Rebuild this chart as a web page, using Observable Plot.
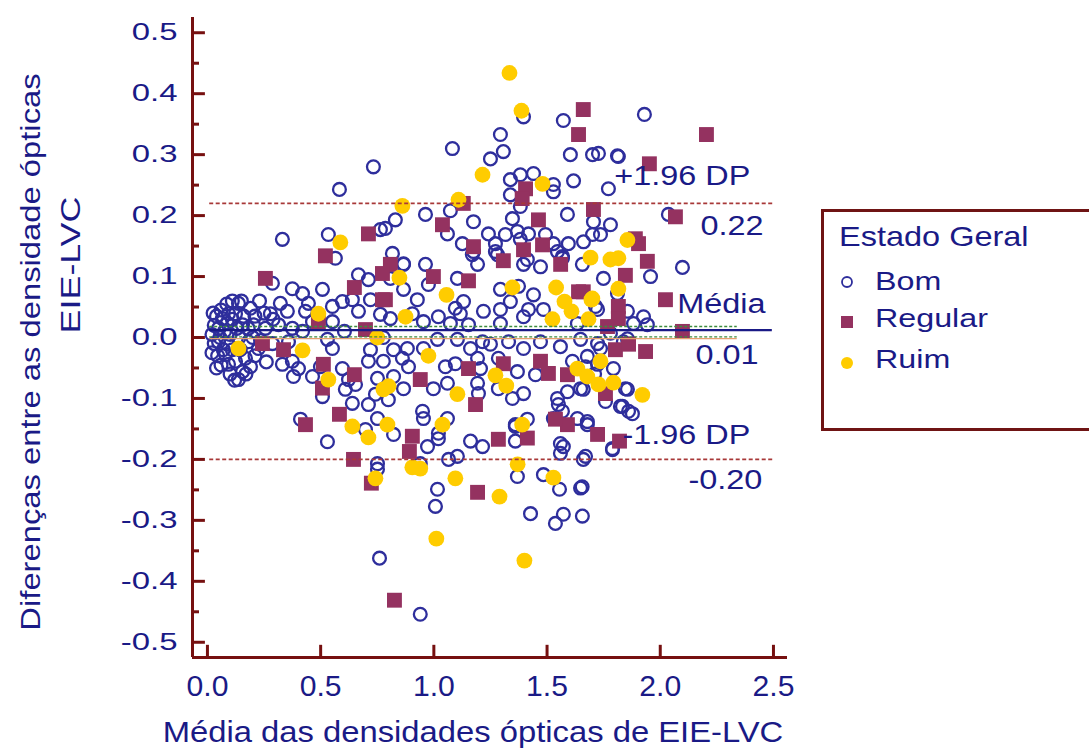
<!DOCTYPE html>
<html><head><meta charset="utf-8">
<script src="https://cdn.jsdelivr.net/npm/d3@7"></script>
<script src="https://cdn.jsdelivr.net/npm/@observablehq/plot@0.6"></script>
<style>
body{margin:0;background:#fff;overflow:hidden;}
#chart{position:relative;width:1089px;height:749px;overflow:hidden;font-family:"Liberation Sans",Arial,sans-serif;color:#1a1a86;}
.t{position:absolute;white-space:nowrap;line-height:1;transform-origin:0 0;}
#legend{position:absolute;left:821px;top:209px;width:330px;height:222px;border:3px solid #6f1414;box-sizing:border-box;}
</style></head><body><div id="chart"></div>
<script>
// ---------- data ----------
const bom = [
[0.733,0.28],[0.583,0.243],[0.331,0.161],[0.534,0.169],[0.565,0.13],[0.764,0.177],
[1.082,0.31],[1.294,0.333],[1.307,0.305],[1.25,0.293],[1.572,0.356],[1.396,0.362],[1.338,0.259],[1.382,0.267],[1.44,0.269],[1.338,0.234],[1.528,0.239],[1.528,0.251],[1.617,0.257],[1.603,0.3],[1.701,0.3],[1.727,0.302],[1.811,0.298],[1.771,0.244],[1.93,0.366],
[0.83,0.193],[0.786,0.179],[0.963,0.202],[1.073,0.208],[1.175,0.19],[1.347,0.195],[1.382,0.215],[1.59,0.202],[1.705,0.19],[1.78,0.185],
[1.06,0.17],[1.126,0.154],[1.241,0.17],[1.272,0.154],[1.316,0.169],[1.369,0.174],[1.418,0.17],[1.493,0.169],[1.528,0.154],[1.594,0.154],[1.661,0.157],[1.701,0.169],[1.736,0.169],[1.175,0.141],[1.382,0.161],[0.817,0.138],[0.866,0.121],[1.272,0.141],[1.413,0.128],[1.546,0.141],[1.568,0.13],[1.656,0.12],
[1.815,0.297],[2.036,0.202],[2.098,0.115],[1.957,0.1],[1.714,0.051],[1.926,0.034],[1.943,0.021],[1.78,0.007],[1.855,-0.002],
[0.287,0.089],[0.375,0.08],[0.42,0.072],[0.322,0.056],[0.278,0.039],[0.353,0.043],[0.446,0.056],[0.508,0.079],[0.552,0.051],[0.596,0.059],[0.64,0.062],[0.667,0.103],[0.711,0.095],[0.72,0.062],[0.667,0.043],[0.433,0.043],[0.464,0.026],[0.552,0.026],[0.605,0.01],[0.764,0.038],
[0.137,0.056],[0.093,0.039],[0.124,0.039],[0.19,0.048],[0.066,0.031],[0.088,0.023],[0.049,0.015],[0.155,0.021],[0.203,0.021],[0.256,0.015],[0.314,0.021],[0.375,0.015],[0.42,0.01],[0.049,-0.007],[0.088,-0.011],[0.181,-0.007],[0.225,-0.018],[0.287,-0.01],[0.358,-0.007],[0.08,-0.028],[0.124,-0.039],[0.168,-0.034],[0.093,-0.044],[0.155,-0.056],[0.137,-0.069],[0.19,-0.048],[0.331,-0.044],[0.375,-0.039],[0.402,-0.051],[0.38,-0.064],[0.464,-0.064],[0.499,-0.048],[0.552,-0.018],[0.53,-0.003],[0.596,-0.051],[0.623,-0.069],[0.654,-0.077],[0.609,-0.085],[0.508,-0.097],[0.64,-0.108],[0.711,-0.11],[0.742,-0.093],[0.751,-0.067],[0.711,-0.039],[0.72,-0.02],[0.411,-0.134],[0.53,-0.171],[0.698,-0.151],[0.751,-0.133],[0.751,-0.207],[0.751,-0.216],[0.76,-0.362],[0.94,-0.454],
[0.03,0.02],[0.03,-0.01],[0.02,0.005],[0.06,0.045],[0.11,0.06],[0.16,0.035],[0.07,-0.02],[0.11,-0.02],[0.14,0.0],[0.2,0.0],[0.06,-0.045],[0.1,-0.06],[0.17,-0.06],[0.21,-0.03],[0.25,0.04],[0.13,0.015],[0.04,0.035],[0.23,0.06],[0.26,-0.04],[0.29,0.03],
[0.025,0.04],[0.02,-0.025],[0.045,-0.03],[0.1,0.005],[0.12,-0.07],[0.085,0.055],[0.15,0.06],[0.18,0.015],[0.21,0.035],[0.235,-0.005],[0.055,0.0],[0.11,0.03],[0.145,-0.02],[0.075,0.01],[0.04,-0.05],
[0.822,-0.159],[0.94,-0.207],[0.972,-0.179],[1.02,-0.166],[1.065,-0.2],[1.104,-0.195],[1.162,-0.17],[1.215,-0.179],[1.36,-0.146],[1.36,-0.17],[1.369,-0.228],[1.484,-0.225],[1.559,-0.19],[1.572,-0.179],[1.67,-0.195],[1.789,-0.184],[1.016,-0.249],[1.007,-0.277],[1.555,-0.249],[1.648,-0.247],[1.427,-0.289],[1.537,-0.305],[1.572,-0.29],[1.656,-0.293],
[0.866,0.12],[0.963,0.12],[0.808,0.097],[1.104,0.097],[1.17,0.136],[1.193,0.12],[1.281,0.136],[1.396,0.12],[1.471,0.116],[1.568,0.133],[1.749,0.097],[1.811,0.072],[0.866,0.079],[0.927,0.062],[0.976,0.087],[1.131,0.059],[1.294,0.079],[1.374,0.084],[1.44,0.07],[1.338,0.059],[1.418,0.046],[1.484,0.046],[1.219,0.043],[1.294,0.046],[1.095,0.048],[1.117,0.039],[0.808,0.031],[0.905,0.039],[0.954,0.026],[1.02,0.034],[1.073,0.023],[1.153,0.021],[1.294,0.023],[1.396,0.034],[1.634,0.023],[1.723,0.046],[1.855,0.043],[1.882,0.023],
[0.777,0.0],[0.822,-0.02],[0.883,-0.018],[0.954,-0.018],[1.016,-0.003],[1.104,-0.003],[1.162,-0.018],[1.215,-0.007],[1.25,-0.011],[1.33,-0.007],[1.396,-0.018],[1.471,-0.007],[1.559,-0.015],[1.648,-0.003],[1.723,-0.01],[1.837,-0.007],
[0.777,-0.039],[0.861,-0.034],[0.888,-0.048],[1.051,-0.048],[1.095,-0.043],[1.193,-0.034],[1.206,-0.051],[1.285,-0.034],[1.369,-0.056],[1.449,-0.061],[1.612,-0.039],[1.678,-0.031],[1.723,-0.044],[1.793,-0.051],
[0.822,-0.064],[0.866,-0.084],[0.998,-0.084],[1.06,-0.075],[1.193,-0.075],[1.285,-0.084],[1.347,-0.1],[1.396,-0.092],[1.546,-0.1],[1.59,-0.089],[1.648,-0.084],[1.846,-0.084],[0.799,-0.102],[0.95,-0.121],[0.954,-0.133],[1.197,-0.092],[1.55,-0.11],[1.568,-0.121],[1.634,-0.133],[1.678,-0.143],[1.824,-0.113],[1.86,-0.121],[1.06,-0.133],[1.36,-0.143],[1.413,-0.134],[1.528,-0.133],[1.02,-0.157],[1.559,-0.174],
[1.736,-0.018],[1.67,-0.048],[1.71,-0.06],[1.66,-0.085],[1.758,-0.105],[1.855,-0.085],[1.833,-0.113],[1.877,-0.125],[1.678,-0.138],[1.789,-0.182],[1.66,-0.2],[1.655,-0.245]
];
const regular = [
[1.66,0.374],[1.639,0.333],[2.204,0.333],[1.952,0.285],[1.705,0.21],[2.067,0.198],[1.89,0.162],[1.904,0.154],[1.943,0.125],[1.846,0.102],[2.023,0.062],[1.815,0.051],[1.815,0.031],[2.098,0.01],[1.66,0.075],[1.767,0.018],
[1.802,-0.02],[1.86,-0.011],[1.935,-0.023],[1.758,-0.092],[1.723,-0.159],[1.82,-0.17],
[1.13,0.22],[1.405,0.244],[1.39,0.228],[1.462,0.193],[1.038,0.185],[1.175,0.149],[1.48,0.152],[1.396,0.144],[1.307,0.126],[1.56,0.12],[0.808,0.12],
[0.998,0.1],[1.153,0.093],[0.786,0.062],[1.639,0.075],
[1.471,-0.039],[1.506,-0.059],[1.59,-0.061],[1.307,-0.043],[1.153,-0.051],[0.94,-0.069],[1.184,-0.11],[1.59,-0.143],[0.905,-0.162],[1.285,-0.167],[1.413,-0.165],[1.537,-0.134],[0.892,-0.187],[1.193,-0.254],[0.826,-0.431],
[0.711,0.17],[0.521,0.134],[0.256,0.097],[0.649,0.082],[0.773,0.062],[0.49,0.026],[0.243,-0.01],[0.336,-0.02],[0.512,-0.044],[0.508,-0.083],[0.649,-0.061],[0.583,-0.126],[0.433,-0.143],[0.645,-0.2],[0.724,-0.239],[0.698,0.013],[0.773,0.105]
];
const ruim = [
[1.334,0.434],[1.387,0.372],[1.215,0.267],[1.48,0.252],[0.861,0.216],[1.109,0.226],[1.692,0.131],[1.78,0.128],[1.815,0.13],[1.855,0.16],[0.587,0.156],
[0.848,0.098],[1.056,0.07],[1.347,0.082],[1.54,0.082],[1.577,0.059],[1.608,0.043],[1.696,0.062],[1.683,0.03],[1.524,0.03],[0.875,0.034],[1.7,0.064],[1.815,0.08],
[0.976,-0.03],[1.272,-0.062],[1.32,-0.079],[0.8,-0.08],[1.104,-0.093],[0.795,-0.143],[1.038,-0.143],[1.39,-0.143],[1.634,-0.051],[1.678,-0.064],[1.727,-0.077],[1.793,-0.074],[1.736,-0.039],[1.921,-0.094],
[0.905,-0.213],[1.095,-0.231],[1.29,-0.261],[1.37,-0.208],[1.528,-0.23],[1.011,-0.33],[1.4,-0.366],[0.94,-0.215],
[0.49,0.039],[0.137,-0.018],[0.42,-0.021],[0.534,-0.069],[0.64,-0.146],[0.711,-0.164],[0.742,-0.231],[0.75,0.0],[0.777,-0.085]
];
const meanDiff = 0.012;         // Média (0.01)
const upperLoA = 0.22;          // +1.96 DP
const lowerLoA = -0.20;         // -1.96 DP
const ciMean = [0.018, 0.001];  // green dashed band around mean
const zeroRef = -0.002;         // orange reference line
const yMajor = [-0.5,-0.4,-0.3,-0.2,-0.1,0,0.1,0.2,0.3,0.4,0.5];
const yMinor = [-0.45,-0.35,-0.25,-0.15,-0.05,0.05,0.15,0.25,0.35,0.45];
const xTicks = [0,0.5,1,1.5,2,2.5];
const annotTexts = ["+1.96 DP","0.22","Média","0.01","-1.96 DP","-0.20"];
const annotY = [0.265,0.183,0.055,-0.030,-0.160,-0.235];
const annotX = [2.398,2.456,2.465,2.434,2.398,2.451];
const legendTitle = "Estado Geral";
const legendItems = ["Bom","Regular","Ruim"];

// ---------- style ----------
const FONT = '"Liberation Sans", Arial, sans-serif';
const NAVY = "#1a1a86", AXIS = "#761010", BOM = "#2e2e9c", REG = "#943260", RUIM = "#ffcc00";
const xDomain = [-0.066, 2.562], yDomain = [-0.525, 0.525];
const yTickMajor = 0.057, yTickMinor = 0.031, xTickLen = 0.020;

const P = () => ({x: d => d[0], y: d => d[1]});
const plot = Plot.plot({
  width: 1089, height: 749,
  marginLeft: 192, marginRight: 302, marginTop: 17, marginBottom: 92,
  x: {domain: xDomain}, y: {domain: yDomain},
  style: {fontFamily: FONT, background: "transparent", overflow: "visible"},
  marks: [
    Plot.dot(bom, {...P(), r: 6.4, stroke: BOM, strokeWidth: 2.3, fill: "none"}),
    Plot.dot(regular, {...P(), symbol: "square", r: 8.4, fill: REG}),
    Plot.dot(ruim, {...P(), r: 7.9, fill: RUIM}),
    Plot.ruleY([zeroRef], {x1: 0.01, x2: 2.34, stroke: "#e6a070", strokeWidth: 1.2}),
    Plot.ruleY(ciMean, {x1: 0.01, x2: 2.34, stroke: "#3c8c3c", strokeWidth: 1.4, strokeDasharray: "3,2"}),
    Plot.ruleY([meanDiff], {x1: 0.01, x2: 2.495, stroke: NAVY, strokeWidth: 2.2}),
    Plot.ruleY([upperLoA, lowerLoA], {x1: 0.01, x2: 2.5, stroke: "#a83838", strokeWidth: 1.6, strokeDasharray: "4,2.5"}),
    // axes
    Plot.ruleX([xDomain[0]], {y1: yDomain[0], y2: yDomain[1], stroke: AXIS, strokeWidth: 3}),
    Plot.ruleY([yDomain[0]], {x1: xDomain[0], x2: xDomain[1], stroke: AXIS, strokeWidth: 3}),
    Plot.ruleY(yMajor, {x1: xDomain[0], x2: xDomain[0] + yTickMajor, stroke: AXIS, strokeWidth: 3}),
    Plot.ruleY(yMinor, {x1: xDomain[0], x2: xDomain[0] + yTickMinor, stroke: AXIS, strokeWidth: 3}),
    Plot.ruleX(xTicks, {y1: yDomain[0], y2: yDomain[0] + xTickLen, stroke: AXIS, strokeWidth: 3}),
    Plot.axisY({ticks: yMajor, tickSize: 0, tickPadding: 15, fontSize: 24, color: NAVY, label: null, tickFormat: d => d.toFixed(1)}),
    Plot.axisX({ticks: xTicks, tickSize: 0, tickPadding: 18, fontSize: 29, color: NAVY, label: null, tickFormat: d => d.toFixed(1)}),
    Plot.text(annotTexts, {x: (d,i) => annotX[i], y: (d,i) => annotY[i], text: d => d, textAnchor: "end", lineAnchor: "middle", fontSize: 27, fill: NAVY})
  ]
});
const chart = document.getElementById("chart");
chart.appendChild(plot);

function stretch(nodes, k) {
  nodes.forEach(n => {
    const L = n.getComputedTextLength();
    if (L > 0) { n.setAttribute("textLength", (L * k).toFixed(1)); n.setAttribute("lengthAdjust", "spacingAndGlyphs"); }
  });
}
stretch(plot.querySelectorAll('g[aria-label="y-axis tick label"] text'), 1.37);
stretch(plot.querySelectorAll('g[aria-label="x-axis tick label"] text'), 1.04);
stretch(plot.querySelectorAll('g[aria-label="text"] text'), 1.2);

// ---------- titles (HTML) ----------
function addText(txt, left, top, size, k, rot) {
  const d = document.createElement("div");
  d.className = "t";
  d.textContent = txt;
  d.style.left = left + "px"; d.style.top = top + "px"; d.style.fontSize = size + "px";
  d.style.transform = (rot ? `rotate(${rot}deg) ` : "") + `scaleX(${k}) translate(-50%,-50%)`;
  chart.appendChild(d);
  return d;
}
addText("Média das densidades ópticas de EIE-LVC", 473, 732, 29, 1.13, 0);
addText("Diferenças entre as densidade ópticas", 31, 352, 28, 1.17, -90);
addText("EIE-LVC", 71, 265, 28, 1.28, -90);

// ---------- legend ----------
const lg = document.createElement("div"); lg.id = "legend"; chart.appendChild(lg);
function addLeft(txt, left, cy, size, k) {
  const d = document.createElement("div");
  d.className = "t"; d.textContent = txt;
  d.style.left = left + "px"; d.style.top = cy + "px"; d.style.fontSize = size + "px";
  d.style.transform = `scaleX(${k}) translateY(-50%)`;
  chart.appendChild(d);
}
addLeft(legendTitle, 839, 237, 28, 1.16);
const itemY = [281, 318, 359];
legendItems.forEach((t, i) => addLeft(t, 875, itemY[i], 25, 1.29));
const sym = d3.select(chart).append("svg").attr("width", 1089).attr("height", 749)
  .style("position", "absolute").style("left", 0).style("top", 0).style("pointer-events", "none");
sym.append("circle").attr("cx", 847).attr("cy", 282).attr("r", 5).attr("fill", "none").attr("stroke", BOM).attr("stroke-width", 1.8);
sym.append("rect").attr("x", 841).attr("y", 316).attr("width", 12).attr("height", 12).attr("fill", REG);
sym.append("circle").attr("cx", 847).attr("cy", 363).attr("r", 6).attr("fill", RUIM);
</script>
</body></html>
